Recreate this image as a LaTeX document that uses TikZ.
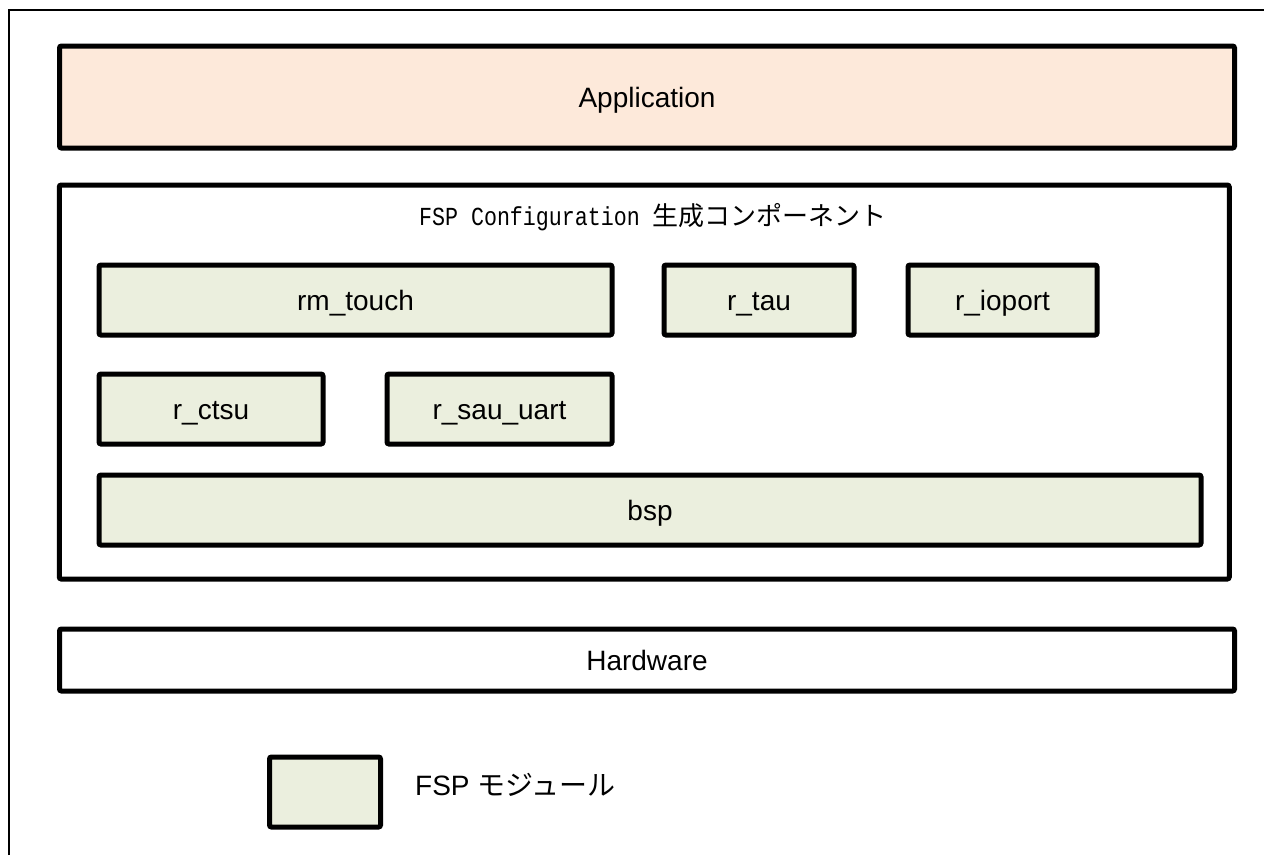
\documentclass[tikz,border=0pt]{standalone}
\usepackage{fontspec}
\setmainfont{Liberation Sans}
\setmonofont{Liberation Mono}
\newfontfamily\cjk{Noto Sans CJK JP}
\usepackage{xcolor}
\usepackage{graphicx}
\definecolor{appfill}{RGB}{253,233,218}
\definecolor{fspfill}{RGB}{235,239,222}
\tikzset{
  layer/.style={draw, line width=5pt, rounded corners=2pt, inner sep=0pt,
    text height=20pt, text depth=0pt, font=\fontsize{28}{34}\selectfont},
  fspmod/.style={layer, fill=fspfill, minimum height=70pt},
}

\begin{document}
\begin{tikzpicture}[x=1pt,y=-1pt]
\useasboundingbox (0,0) rectangle (1264,855);
\draw[line width=2pt] (9,855) -- (9,10) -- (1264,10);
\node[layer, fill=appfill, minimum width=1175pt, minimum height=102pt] (app) at (647,97) {Application};
\node[layer, fill=white, minimum width=1170pt, minimum height=394pt] (fspcfg) at (644.25,382) {};
\node[anchor=base, inner sep=0pt, font=\fontsize{26}{30}\selectfont] (cfgtitle) at (653,225)
  {\scalebox{0.833}[1]{\ttfamily FSP Configuration}\hspace{13pt}{\cjk 生成コンポーネント}};
\node[fspmod, minimum width=513pt] (touch) at (355.5,300) {rm\_touch};
\node[fspmod, minimum width=190pt] (tau) at (759,300) {r\_tau};
\node[fspmod, minimum width=189pt] (ioport) at (1002.5,300) {r\_ioport};
\node[fspmod, minimum width=224pt] (ctsu) at (211,409) {r\_ctsu};
\node[fspmod, minimum width=225pt] (sau) at (499.5,409) {r\_sau\_uart};
\node[fspmod, minimum width=1102pt] (bsp) at (650,510) {bsp};
\node[layer, fill=white, minimum width=1175pt, minimum height=62pt] (hw) at (647,660) {Hardware};
\node[fspmod, minimum width=111pt] (legbox) at (325,792) {};
\node[anchor=west, inner sep=0pt, text height=20pt, text depth=0pt,
  font=\fontsize{28}{34}\selectfont] (legtext) at (415,785) {FSP {\cjk モジュール}};
\end{tikzpicture}
\end{document}
